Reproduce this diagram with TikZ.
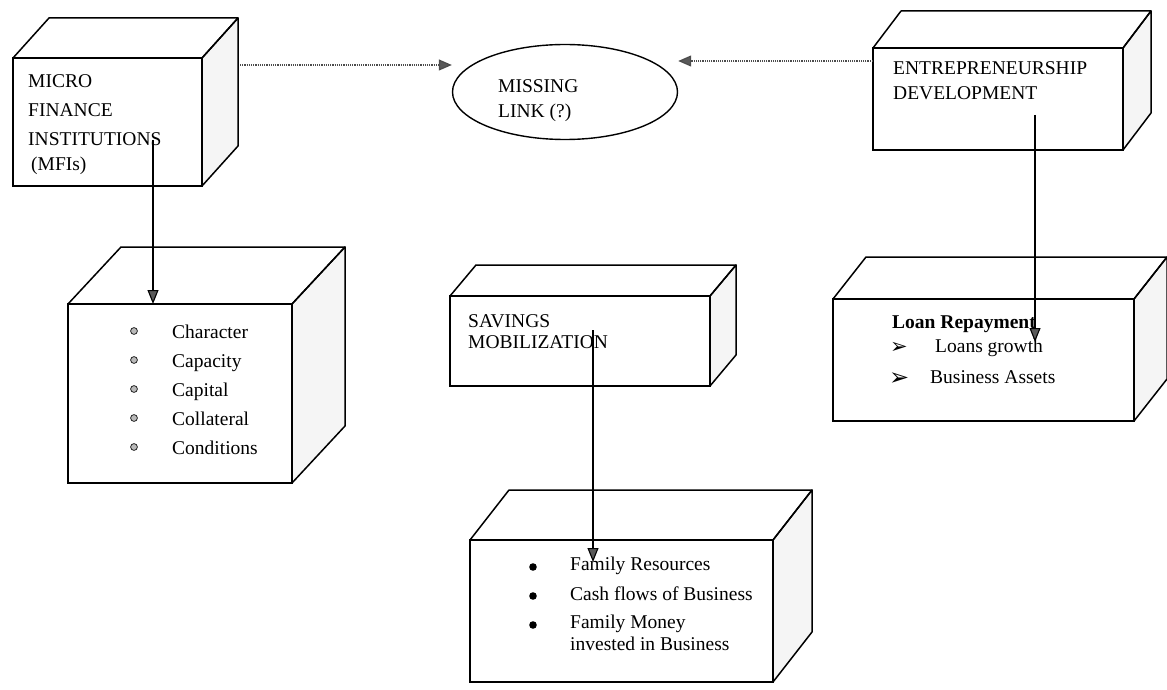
\documentclass[tikz,border=0pt]{standalone}
\usepackage{fontspec}
\setmainfont{Liberation Serif}
\newfontfamily\symfont{DejaVu Sans}
\usetikzlibrary{arrows.meta,positioning,shapes.geometric}

% side and top faces of a block
\newcommand{\blockdepth}[3]{%
  \filldraw[fill=gray!8, line width=1.5pt, line join=round] (#1.north east) -- ++(#2,-#3) -- ([shift={(#2,-#3)}]#1.south east) -- (#1.south east) -- cycle;
  \draw[line width=1.5pt, line join=round] (#1.north west) -- ++(#2,-#3) -- ([shift={(#2,-#3)}]#1.north east) -- (#1.north east);
}

\begin{document}
\begin{tikzpicture}[x=1pt,y=-1pt,
    front/.style={draw, line width=1.6pt, rectangle, inner sep=0pt, outer sep=0pt, anchor=north west, fill=white},
    txt/.style={anchor=base west, inner sep=0pt, font=\fontsize{19.5}{24}\selectfont},
    flow/.style={line width=1.1pt, -{Triangle[length=14pt,width=11pt,fill=black!65]}},
    hint/.style={densely dotted, line width=1.2pt, draw=black!70, -{Triangle[length=13pt,width=11pt,fill=black!65]}}]
  \useasboundingbox (0,0) rectangle (1167,690);

  % blocks
  \node[front, minimum width=189pt, minimum height=128pt] (mfi) at (13,58) {};
  \blockdepth{mfi}{36}{40}
  \node[front, minimum width=224pt, minimum height=179pt] (crit) at (68,304) {};
  \blockdepth{crit}{53}{57}
  \node[front, minimum width=260pt, minimum height=90pt] (sav) at (450,296) {};
  \blockdepth{sav}{26}{31}
  \node[front, minimum width=301pt, minimum height=122pt] (loan) at (833,299) {};
  \blockdepth{loan}{33}{42}
  \node[front, minimum width=303pt, minimum height=142pt] (fam) at (470,540) {};
  \blockdepth{fam}{39}{50}
  \node[front, minimum width=250pt, minimum height=102pt] (ent) at (873,48) {};
  \blockdepth{ent}{28}{37}
  \node[draw, ellipse, line width=1.4pt, minimum width=225pt, minimum height=95pt] (link) at (565,92) {};

  % texts
  \node[txt] (m1) at (28,88) {MICRO};
  \node[txt] (m2) at (28,117) {FINANCE};
  \node[txt] (m3) at (28,146) {INSTITUTIONS};
  \node[txt] (m4) at (31,170) {(MFIs)};

  \node[txt] (l1) at (498,93) {MISSING};
  \node[txt] (l2) at (498,118) {LINK (?)};

  \node[txt] (e1) at (893,75) {ENTREPRENEURSHIP};
  \node[txt] (e2) at (893,100) {DEVELOPMENT};

  \node[txt] (c1) at (172,338) {Character};
  \node[txt] (c2) at (172,367) {Capacity};
  \node[txt] (c3) at (172,396) {Capital};
  \node[txt] (c4) at (172,425) {Collateral};
  \node[txt] (c5) at (172,454) {Conditions};
  \filldraw[fill=gray!55, draw=black!85, line width=0.8pt] (134,331) circle (3.4pt) (134,360) circle (3.4pt)
    (134,389) circle (3.4pt) (134,418) circle (3.4pt) (134,447) circle (3.4pt);

  \node[txt] (s1) at (468,327) {SAVINGS};
  \node[txt] (s2) at (468,348) {MOBILIZATION};

  \node[txt, font=\fontsize{19.5}{24}\selectfont\bfseries] (r0) at (892,328) {Loan Repayment};
  \node[txt, font=\fontsize{21}{24}\symfont] (b1) at (890,353) {➢};
  \node[txt] (r1) at (935,352) {Loans growth};
  \node[txt, font=\fontsize{24}{24}\symfont] (b2) at (889,385) {➢};
  \node[txt] (r2) at (930,383) {Business Assets};

  \node[txt] (f1) at (570,570) {Family Resources};
  \node[txt] (f2) at (570,600) {Cash flows of Business};
  \node[txt] (f3) at (570,628) {Family Money};
  \node[txt] (f4) at (570,650) {invested in Business};
  \fill (533,567) circle (3.8pt) (533,596) circle (3.8pt) (533,625) circle (3.8pt);

  % connectors
  \coordinate (mfiout) at (240,65);
  \coordinate (entout) at (873,61);
  \coordinate (mfidown) at (153,140);
  \coordinate (entdown) at (1035,115);
  \coordinate (loanin) at (1035,342);
  \coordinate (savdown) at (593,330);
  \coordinate (famin) at (593,562);
  \draw[hint] (mfiout) -- (link.west |- mfiout);
  \draw[hint] (entout) -- (link.east |- entout);
  \draw[flow] (mfidown) -- (mfidown |- crit.north);
  \draw[flow] (entdown) -- (loanin);
  \draw[flow] (savdown) -- (famin);
\end{tikzpicture}
\end{document}
